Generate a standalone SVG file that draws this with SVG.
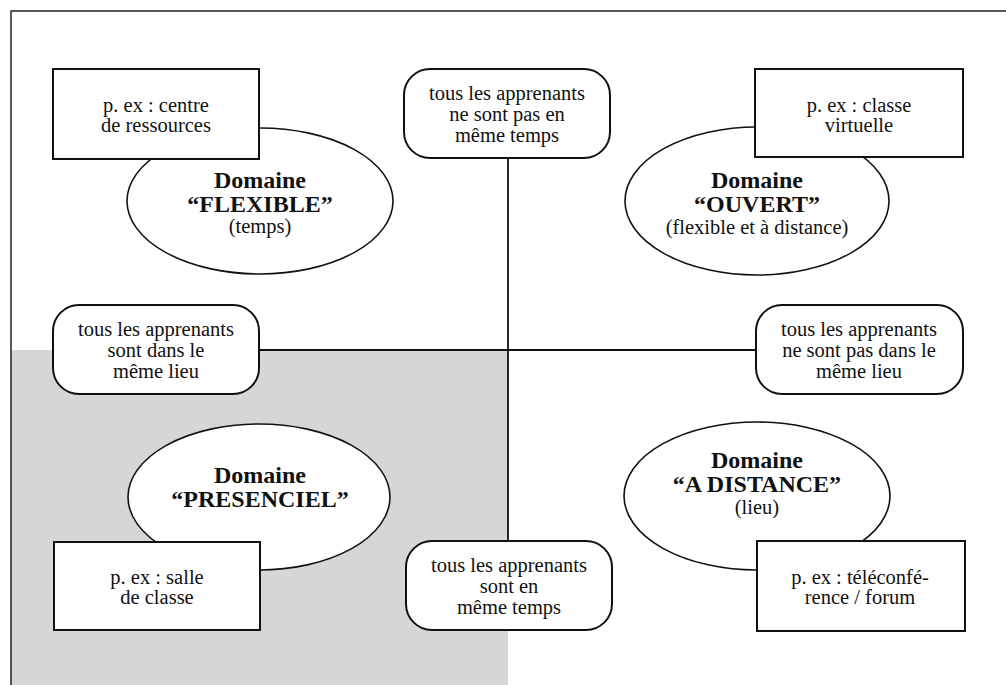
<svg xmlns="http://www.w3.org/2000/svg" width="1006" height="685" viewBox="0 0 1006 685">
<style>
text{font-family:"Liberation Serif","Times New Roman",serif;fill:#111;text-anchor:middle}
.t{font-size:20.5px}
.b{font-size:24px;font-weight:bold}
.box{fill:#fff;stroke:#111;stroke-width:2}
.pill{fill:#fff;stroke:#111;stroke-width:2}
.ell{fill:#fff;stroke:#111;stroke-width:1.6}
.conn{stroke:#111;stroke-width:1.8;fill:none}
</style>
<rect x="0" y="0" width="1006" height="685" fill="#fff"/>
<rect id="shade" x="11" y="350" width="497" height="335" fill="#d6d6d6"/>
<path id="frame" d="M11 685 V11 H1006" fill="none" stroke="#222" stroke-width="1.5"/>
<g id="connectors">
<line class="conn" x1="508" y1="158" x2="508" y2="541"/>
<line class="conn" x1="259" y1="350" x2="756" y2="350"/>
</g>
<g id="flexible">
<ellipse class="ell" cx="260" cy="201" rx="133" ry="73"/>
<text class="b" x="260" y="188">Domaine</text>
<text class="b" x="260" y="212">“FLEXIBLE”</text>
<text class="t" x="260" y="233">(temps)</text>
</g>
<g id="ex-centre">
<rect class="box" x="53" y="69" width="206" height="90"/>
<text class="t" x="156" y="112">p. ex : centre</text>
<text class="t" x="156" y="132">de ressources</text>
</g>
<g id="ouvert">
<ellipse class="ell" cx="757" cy="201" rx="132" ry="74"/>
<text class="b" x="757" y="188">Domaine</text>
<text class="b" x="757" y="212">“OUVERT”</text>
<text class="t" x="757" y="234">(flexible et à distance)</text>
</g>
<g id="ex-virtuelle">
<rect class="box" x="755" y="69" width="208" height="88"/>
<text class="t" x="859" y="112">p. ex : classe</text>
<text class="t" x="859" y="132">virtuelle</text>
</g>
<g id="presenciel">
<ellipse class="ell" cx="259" cy="497" rx="131" ry="73"/>
<text class="b" x="260" y="483">Domaine</text>
<text class="b" x="260" y="507">“PRESENCIEL”</text>
</g>
<g id="ex-salle">
<rect class="box" x="54" y="542" width="206" height="88"/>
<text class="t" x="157" y="584">p. ex : salle</text>
<text class="t" x="157" y="604">de classe</text>
</g>
<g id="distance">
<ellipse class="ell" cx="757" cy="496" rx="133" ry="74"/>
<text class="b" x="757" y="468">Domaine</text>
<text class="b" x="757" y="492">“A DISTANCE”</text>
<text class="t" x="757" y="514">(lieu)</text>
</g>
<g id="ex-teleconf">
<rect class="box" x="757" y="541" width="208" height="90"/>
<text class="t" x="860" y="584">p. ex : téléconfé-</text>
<text class="t" x="860" y="604">rence / forum</text>
</g>
<g id="pas-meme-temps">
<rect class="pill" x="404" y="69" width="206" height="89" rx="26"/>
<text class="t" x="507" y="100">tous les apprenants</text>
<text class="t" x="507" y="121">ne sont pas en</text>
<text class="t" x="507" y="142">même temps</text>
</g>
<g id="meme-lieu">
<rect class="pill" x="53" y="305" width="206" height="89" rx="26"/>
<text class="t" x="156" y="336">tous les apprenants</text>
<text class="t" x="156" y="357">sont dans le</text>
<text class="t" x="156" y="378">même lieu</text>
</g>
<g id="pas-meme-lieu">
<rect class="pill" x="756" y="305" width="207" height="89" rx="26"/>
<text class="t" x="859" y="336">tous les apprenants</text>
<text class="t" x="859" y="357">ne sont pas dans le</text>
<text class="t" x="859" y="378">même lieu</text>
</g>
<g id="meme-temps">
<rect class="pill" x="406" y="541" width="206" height="89" rx="26"/>
<text class="t" x="509" y="572">tous les apprenants</text>
<text class="t" x="509" y="593">sont en</text>
<text class="t" x="509" y="614">même temps</text>
</g>
</svg>
